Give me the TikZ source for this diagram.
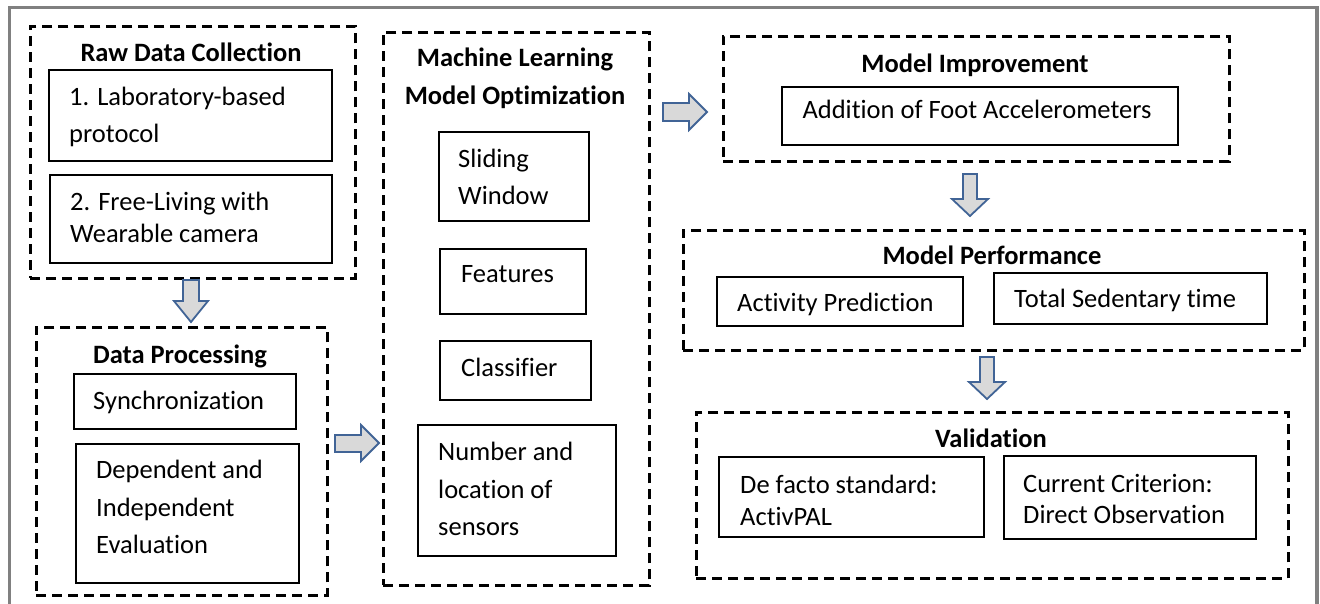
\documentclass[tikz,border=0pt]{standalone}
\usepackage{fontspec}
\setmainfont{Carlito}[Ligatures=CommonOff]
\definecolor{framegray}{RGB}{128,128,128}
\definecolor{arrowline}{RGB}{65,100,150}
\definecolor{arrowfill}{RGB}{217,217,217}
\begin{document}
\begin{tikzpicture}[x=1pt,y=-1pt,
  dbox/.style={draw=black, line width=2.8pt, dash pattern=on 10pt off 6pt, anchor=north west, inner sep=0pt},
  sbox/.style={draw=black, line width=2pt, anchor=north west, inner sep=0pt},
  txt/.style={anchor=base west, inner sep=0pt, font=\fontsize{26.5}{30}\selectfont},
  ctxt/.style={anchor=base, inner sep=0pt, font=\fontsize{26.5}{30}\selectfont},
  ttl/.style={anchor=base, inner sep=0pt, font=\fontsize{26.5}{30}\selectfont\bfseries},
  blk/.style={draw=arrowline, fill=arrowfill, line width=1.8pt, line join=miter}
]
\useasboundingbox (0,0) rectangle (1320,604);
\fill[white] (0,0) rectangle (1320,604);
% outer frame
\draw[framegray, line width=3.5pt] (9.5,604) -- (9.5,7.5) -- (1317,7.5) -- (1317,604);

% ---------- Raw Data Collection ----------
\node[dbox, minimum width=325pt, minimum height=252pt] (rdc) at (29,25) {};
\node[ttl] (rdcT) at (191,62) {Raw Data Collection};
\node[sbox, minimum width=283pt, minimum height=91pt] (lab) at (48,69) {};
\node[txt] (labA) at (69,106) {1. Laboratory-based};
\node[txt] (labB) at (69,143) {protocol};
\node[sbox, minimum width=282pt, minimum height=88pt] (free) at (49,174) {};
\node[txt] (freeA) at (70,211) {2. Free-Living with};
\node[txt] (freeB) at (70,243) {Wearable camera};

% ---------- Data Processing ----------
\node[dbox, minimum width=291pt, minimum height=268pt] (dp) at (35,326) {};
\node[ttl] (dpT) at (180,363) {Data Processing};
\node[sbox, minimum width=222pt, minimum height=55pt] (sync) at (73,373) {};
\node[txt] (syncA) at (93,409) {Synchronization};
\node[sbox, minimum width=223pt, minimum height=139pt] (dep) at (75,443) {};
\node[txt] (depA) at (96,478) {Dependent and};
\node[txt] (depB) at (96,516) {Independent};
\node[txt] (depC) at (96,553) {Evaluation};

% ---------- Machine Learning ----------
\node[dbox, minimum width=266pt, minimum height=553pt] (ml) at (382,31) {};
\node[ttl] (mlT1) at (515,67) {Machine Learning};
\node[ttl] (mlT2) at (515,105) {Model Optimization};
\node[sbox, minimum width=150pt, minimum height=89pt] (sw) at (438,131) {};
\node[txt] (swA) at (458,168) {Sliding};
\node[txt] (swB) at (458,205) {Window};
\node[sbox, minimum width=146pt, minimum height=65pt] (feat) at (439,248) {};
\node[txt] (featA) at (461,283) {Features};
\node[sbox, minimum width=151pt, minimum height=59pt] (cls) at (439,340) {};
\node[txt] (clsA) at (461,376) {Classifier};
\node[sbox, minimum width=198pt, minimum height=131pt] (num) at (417,424) {};
\node[txt] (numA) at (438,460) {Number and};
\node[txt] (numB) at (438,498) {location of};
\node[txt] (numC) at (438,535) {sensors};

% ---------- Model Improvement ----------
\node[dbox, minimum width=506pt, minimum height=125pt] (mi) at (722,35) {};
\node[ttl] (miT) at (975,73) {Model Improvement};
\node[sbox, minimum width=396pt, minimum height=58pt] (add) at (781,86) {};
\node[ctxt] (addA) at (977,119) {Addition of Foot Accelerometers};

% ---------- Model Performance ----------
\node[dbox, minimum width=621pt, minimum height=120pt] (mp) at (682,229) {};
\node[ttl] (mpT) at (992,265) {Model Performance};
\node[sbox, minimum width=246pt, minimum height=49pt] (ap) at (716,276) {};
\node[txt] (apA) at (737,311) {Activity Prediction};
\node[sbox, minimum width=273pt, minimum height=51pt] (ts) at (993,272) {};
\node[txt] (tsA) at (1014,307) {Total Sedentary time};

% ---------- Validation ----------
\node[dbox, minimum width=592pt, minimum height=166pt] (val) at (695,411) {};
\node[ttl] (valT) at (991,447) {Validation};
\node[sbox, minimum width=265pt, minimum height=80pt] (df) at (718,456) {};
\node[txt] (dfA) at (740,493) {De facto standard:};
\node[txt] (dfB) at (740,525) {ActivPAL};
\node[sbox, minimum width=252pt, minimum height=83pt] (cc) at (1003,455) {};
\node[txt] (ccA) at (1023,492) {Current Criterion:};
\node[txt] (ccB) at (1023,523) {Direct Observation};

% ---------- block arrows ----------
% down: Raw Data -> Data Processing
\draw[blk] (183,280) -- (199,280) -- (199,301) -- (208,301) -- (191,322) -- (174,301) -- (183,301) -- cycle;
% right: Data Processing -> ML
\draw[blk] (335,435) -- (361,435) -- (361,425) -- (379,443) -- (361,461) -- (361,452) -- (335,452) -- cycle;
% right: ML -> Model Improvement
\draw[blk] (663,103) -- (689,103) -- (689,94) -- (707,112) -- (689,130) -- (689,121) -- (663,121) -- cycle;
% down: Model Improvement -> Model Performance
\draw[blk] (963,174) -- (977,174) -- (977,199) -- (988,199) -- (970,216) -- (952,199) -- (963,199) -- cycle;
% down: Model Performance -> Validation
\draw[blk] (980,357) -- (994,357) -- (994,382) -- (1005,382) -- (987,399) -- (969,382) -- (980,382) -- cycle;
\end{tikzpicture}
\end{document}
